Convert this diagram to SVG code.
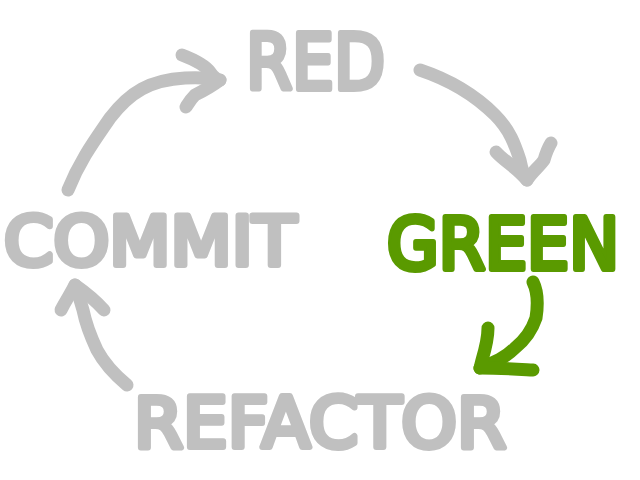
<svg xmlns="http://www.w3.org/2000/svg" width="640" height="480" viewBox="0 0 640 480">
<style>
.lbl{font-family:"DejaVu Sans","Liberation Sans",sans-serif;font-weight:normal;stroke-width:6;stroke-linejoin:round;stroke-linecap:round;paint-order:stroke}
.gray{fill:#c0c0c0;stroke:#c0c0c0}
.green{fill:#5a9a00;stroke:#5a9a00}
.arr{fill:none;stroke-width:13;stroke-linecap:round;stroke-linejoin:round}
.ag{stroke:#c0c0c0}
.agr{stroke:#5a9a00}
</style>
<rect width="640" height="480" fill="#ffffff"/>
<g id="red"><text class="lbl gray" x="246" y="89" font-size="77" textLength="139" lengthAdjust="spacingAndGlyphs">RED</text></g>
<g id="commit"><text class="lbl gray" x="4" y="265" font-size="67" textLength="292" lengthAdjust="spacingAndGlyphs">COMMIT</text></g>
<g id="green"><text class="lbl green" x="387" y="269" font-size="72" textLength="232" lengthAdjust="spacingAndGlyphs">GREEN</text></g>
<g id="refactor"><text class="lbl gray" x="134" y="447" font-size="70" textLength="372" lengthAdjust="spacingAndGlyphs">REFACTOR</text></g>
<g id="connectors">
<path class="arr ag" d="M68,190 C80,160 95,140 110,118 C130,92 150,80 185,78 C200,77 210,78 220,80"/>
<path class="arr ag" d="M182,55 C195,60 205,65 210,72 C214,78 218,80 220,80 C212,86 205,90 195,95 C190,100 188,104 186,107"/>
<path class="arr ag" d="M420,70 C450,80 475,95 495,115 C510,130 515,145 520,160 C522,170 524,176 527,180"/>
<path class="arr ag" d="M496,152 C505,162 515,166 527,180 C532,172 540,166 544,160 C546,153 548,148 551,143"/>
<path class="arr agr" d="M533,282 C538,292 538,305 536,318 C532,330 525,340 515,348 C505,358 495,362 480,368"/>
<path class="arr agr" d="M488,328 C488,340 485,350 482,360 L480,368 C500,368 515,369 533,370"/>
<path class="arr ag" d="M127,385 C115,375 105,365 97,350 C90,335 86,325 83,310 C80,300 78,292 75,285"/>
<path class="arr ag" d="M61,310 C66,300 70,295 75,285 C85,292 95,300 104,310"/>
</g>
</svg>
